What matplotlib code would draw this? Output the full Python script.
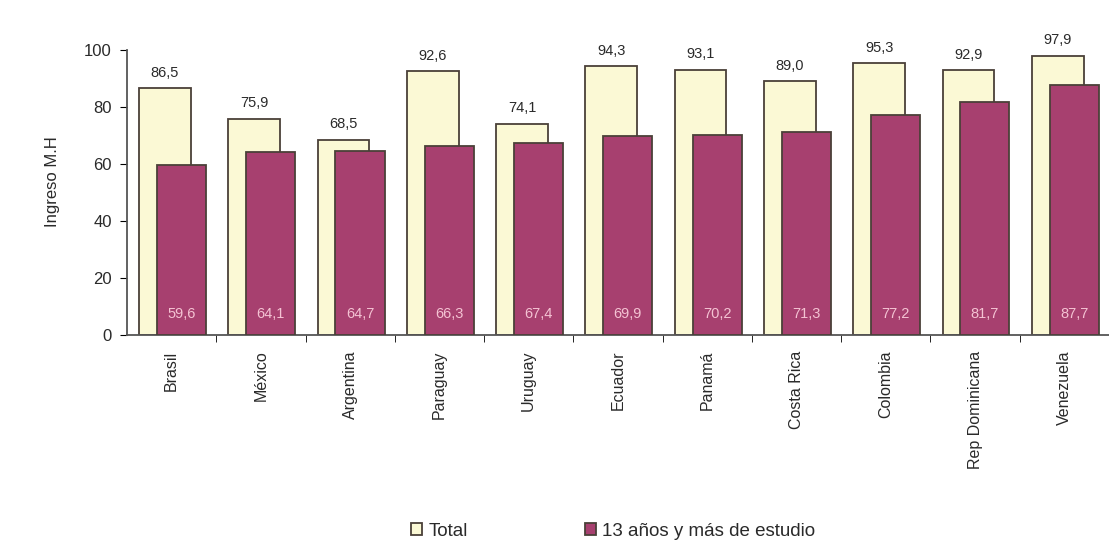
import numpy as np
import matplotlib.pyplot as plt

plt.rcParams['font.family'] = ['Liberation Sans', 'DejaVu Sans']

paises = ['Brasil', 'México', 'Argentina', 'Paraguay', 'Uruguay', 'Ecuador',
          'Panamá', 'Costa Rica', 'Colombia', 'Rep Dominicana', 'Venezuela']
total = [86.5, 75.9, 68.5, 92.6, 74.1, 94.3, 93.1, 89.0, 95.3, 92.9, 97.9]
estudio13 = [59.6, 64.1, 64.7, 66.3, 67.4, 69.9, 70.2, 71.3, 77.2, 81.7, 87.7]

amarillo = '#fbf9d5'
morado = '#a7406f'
borde = '#4a4038'
texto = '#2a2a2a'

fig = plt.figure(figsize=(11.09, 5.55), dpi=100)
ax = fig.add_axes([0.1145, 0.396, 0.8855, 0.514])

x = np.arange(len(paises))
b1 = ax.bar(x - 0.075, total, width=0.58, color=amarillo, edgecolor=borde,
            linewidth=1.3, label='Total', zorder=2)
b2 = ax.bar(x + 0.11, estudio13, width=0.55, color=morado, edgecolor=borde,
            linewidth=1.3, label='13 años y más de estudio', zorder=3)

for xi, v in zip(x, total):
    ax.text(xi - 0.075, v + 3, f'{v:.1f}'.replace('.', ','), ha='center',
            va='bottom', fontsize=10.5, color=texto)
for xi, v in zip(x, estudio13):
    ax.text(xi + 0.11, 7.5, f'{v:.1f}'.replace('.', ','), ha='center',
            va='center', fontsize=10.5, color='#f4c3d3', zorder=4)

ax.set_xlim(-0.5, len(paises) - 0.5)
ax.set_ylim(0, 100)
ax.set_yticks([0, 20, 40, 60, 80, 100])
ax.tick_params(axis='y', labelsize=12, length=5, direction='out', pad=6,
               labelcolor=texto)
ax.set_xticks(x)
ax.set_xticklabels(paises, rotation=90, fontsize=11.5, color=texto)
ax.set_xticks(np.arange(len(paises)) + 0.5, minor=True)
ax.tick_params(axis='x', which='major', length=0, pad=11)
ax.tick_params(axis='x', which='minor', length=5, direction='out')
ax.spines['top'].set_visible(False)
ax.spines['right'].set_visible(False)
for lado in ['left', 'bottom']:
    ax.spines[lado].set_color('#555555')
    ax.spines[lado].set_linewidth(1.3)
ax.set_ylabel('Ingreso M.H', fontsize=12, color=texto)
ax.yaxis.set_label_coords(-0.068, 0.54)

fig.legend(handles=[b1, b2], loc='center', bbox_to_anchor=(0.553, 0.043),
           ncol=2, frameon=False, fontsize=13.5, handlelength=0.6,
           handleheight=0.6, handletextpad=0.35, columnspacing=6.2,
           labelcolor=texto)

fig.savefig('out.png', dpi=100)
